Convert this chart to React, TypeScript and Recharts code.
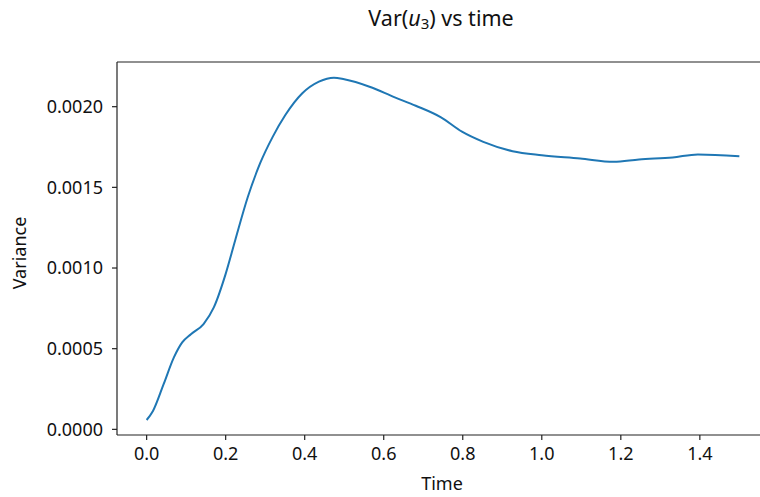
import { LineChart, Line, XAxis, YAxis } from "recharts";

const times = [
  0, 0.016, 0.043, 0.069, 0.09, 0.112, 0.144, 0.17, 0.2, 0.224, 0.256, 0.287,
  0.319, 0.351, 0.394, 0.436, 0.474, 0.5, 0.564, 0.628, 0.681, 0.745, 0.798,
  0.852, 0.926, 1.0, 1.097, 1.182, 1.246, 1.331, 1.395, 1.5,
];

const variance = [
  0.000058, 0.000114, 0.00028, 0.000446, 0.000539, 0.00059, 0.000653, 0.000756,
  0.000964, 0.001171, 0.00144, 0.001648, 0.001813, 0.001948, 0.002083, 0.002155,
  0.00218, 0.00217, 0.002124, 0.002058, 0.002006, 0.001934, 0.001845, 0.001782,
  0.001724, 0.001699, 0.001679, 0.001658, 0.001673, 0.001685, 0.001704, 0.001693,
];

const xTicks = [0, 0.2, 0.4, 0.6, 0.8, 1.0, 1.2, 1.4];
const yTicks = [0, 0.0005, 0.001, 0.0015, 0.002];

const data = times.map((t, i) => ({ t, v: variance[i] }));

const font = "'Noto Sans', 'Open Sans', sans-serif";
const tickStyle = { fill: "#111", fontSize: 18, fontFamily: font };
const axisLine = { stroke: "#222", strokeWidth: 1.2 };

export default function App() {
  return (
    <div
      style={{
        position: "absolute",
        left: 0,
        top: 0,
        width: 760,
        height: 497,
        overflow: "hidden",
        background: "#fff",
        fontFamily: font,
        color: "#111",
      }}
    >
      <div
        style={{
          position: "absolute",
          left: 441,
          top: 19,
          transform: "translate(-50%, -50%)",
          fontSize: 21.5,
          whiteSpace: "nowrap",
          lineHeight: 1,
        }}
      >
        Var(<i>u</i>
        <sub style={{ fontSize: 15, verticalAlign: "-0.25em" }}>3</sub>) vs time
      </div>
      <div
        style={{
          position: "absolute",
          left: 442,
          top: 483,
          transform: "translate(-50%, -50%)",
          fontSize: 18,
          lineHeight: 1,
        }}
      >
        Time
      </div>
      <div
        style={{
          position: "absolute",
          left: 19,
          top: 253,
          transform: "translate(-50%, -50%) rotate(-90deg)",
          fontSize: 18,
          lineHeight: 1,
        }}
      >
        Variance
      </div>
      <LineChart
        width={770}
        height={497}
        data={data}
        margin={{ top: 61, right: 1, left: 0, bottom: 30 }}
      >
        <XAxis
          dataKey="t"
          type="number"
          domain={[-0.075, 1.575]}
          ticks={xTicks}
          tickFormatter={(v: number) => v.toFixed(1)}
          tick={tickStyle}
          axisLine={axisLine}
          tickLine={axisLine}
          tickSize={5}
          tickMargin={7}
          height={32}
          allowDataOverflow
        />
        <XAxis
          xAxisId="top"
          orientation="top"
          dataKey="t"
          type="number"
          domain={[-0.075, 1.575]}
          tick={false}
          tickLine={false}
          axisLine={axisLine}
          height={1}
        />
        <YAxis
          type="number"
          domain={[-0.000035, 0.002277]}
          ticks={yTicks}
          tickFormatter={(v: number) => v.toFixed(4)}
          tick={tickStyle}
          axisLine={axisLine}
          tickLine={axisLine}
          tickSize={5}
          tickMargin={9}
          width={117}
          allowDataOverflow
        />
        <Line
          type="monotone"
          dataKey="v"
          stroke="#1f77b4"
          strokeWidth={2}
          dot={false}
          isAnimationActive={false}
        />
      </LineChart>
    </div>
  );
}
